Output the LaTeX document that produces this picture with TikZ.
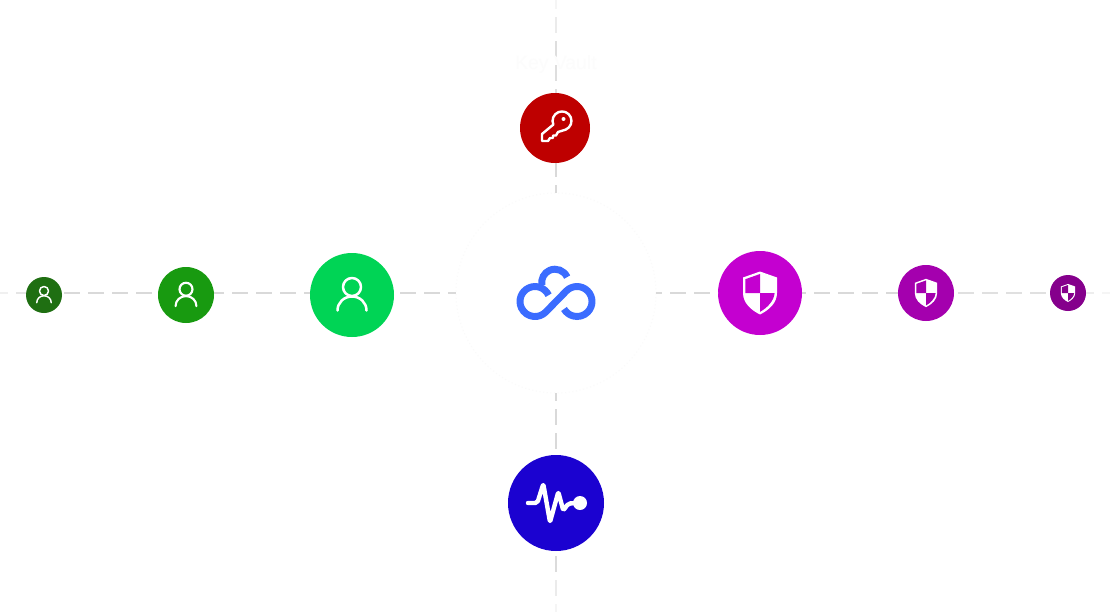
\documentclass[tikz,border=0pt]{standalone}
\usepackage{fontspec}
\setmainfont{Liberation Sans}
\definecolor{keyred}{HTML}{BE0000}
\definecolor{pulseblue}{HTML}{1B02D0}
\definecolor{magA}{HTML}{C400D0}
\definecolor{magB}{HTML}{A400AE}
\definecolor{magC}{HTML}{85008C}
\definecolor{greenA}{HTML}{00D455}
\definecolor{greenB}{HTML}{189A10}
\definecolor{greenC}{HTML}{1F6F12}
\definecolor{cloudblue}{HTML}{3B6CFF}
\tikzset{
  disc/.style={circle,inner sep=0pt,outer sep=0pt,draw=none},
  hub/.style={circle,inner sep=0pt,outer sep=0pt,fill=white,draw=black!2,dotted,line width=0.75pt,minimum size=150pt},
  conn/.style={line width=1.65pt,dash pattern=on 12pt off 6pt,color=black!15},
  iconline/.style={draw=white,line cap=round,line join=round},
  cloudline/.style={draw=cloudblue,line width=5.2pt}
}
\newcommand{\UserIcon}[4]{%
  \begin{scope}[shift={(#1,#2)},scale=#3]
    \draw[iconline,line width=#4] (0,-8) circle (9);
    \draw[iconline,line width=#4] (-14.5,15.5) .. controls (-14.5,7.5) and (-8,1.5) .. (0,1.5) .. controls (8,1.5) and (14.5,7.5) .. (14.5,15.5);
  \end{scope}}
\newcommand{\ShieldIcon}[3]{%
  \begin{scope}[shift={(#1,#2)},scale=#3]
    \fill[white] (0,-21.5) -- (-17,-15.5) -- (-17,0) .. controls (-17,10) and (-9,17) .. (0,21.5) .. controls (9,17) and (17,10) .. (17,0) -- (17,-15.5) -- cycle;
  \end{scope}}
\newcommand{\ShieldCut}[4]{%
  \begin{scope}[shift={(#1,#2)},scale=#3]
    \fill[#4] (0,-19) -- (-14.6,-13.8) -- (-14.6,0) -- (0,0) -- cycle;
    \fill[#4] (0,0) -- (14.6,0) .. controls (14,8) and (7,15) .. (0,18.8) -- cycle;
  \end{scope}}
\begin{document}
\begin{tikzpicture}[x=0.75pt,y=-0.75pt]
\useasboundingbox (0,0) rectangle (1110,614);
\fill[white] (0,0) rectangle (1110,614);
% nodes
\node[hub] (hubnode) at (556,293) {};
\node[disc,fill=keyred,minimum size=52.5pt] (key) at (555,128) {};
\node[disc,fill=pulseblue,minimum size=72pt] (pulse) at (556,503) {};
\node[disc,fill=greenC,minimum size=27pt] (ua) at (44,295) {};
\node[disc,fill=greenB,minimum size=42pt] (ub) at (186,295) {};
\node[disc,fill=greenA,minimum size=63pt] (uc) at (352,295) {};
\node[disc,fill=magA,minimum size=63pt] (sa) at (760,293) {};
\node[disc,fill=magB,minimum size=42pt] (sb) at (926,293) {};
\node[disc,fill=magC,minimum size=27pt] (sc) at (1068,293) {};
\coordinate (hy) at (0,293);
\coordinate (hl) at (12,293);
\coordinate (hr) at (1098,293);
\coordinate (hz) at (1110,293);
\coordinate (vt) at (556,0);
\coordinate (vm) at (556,12);
\coordinate (vn) at (556,36);
\coordinate (vp) at (556,576);
\coordinate (vq) at (556,600);
\coordinate (vb) at (556,612);
% horizontal connectors
\draw[conn,color=black!6,dash phase=6pt] (hy) -- (hl);
\draw[conn,color=black!10,dash phase=15pt] (hl) -- (ua.west |- hy);
\draw[conn,dash phase=16.5pt] (ua.east |- hy) -- (ub.west |- hy);
\draw[conn,dash phase=4.5pt] (ub.east |- hy) -- (uc.west |- hy);
\draw[conn,dash phase=13.5pt] (uc.east |- hy) -- (hubnode.west);
\draw[conn,dash phase=7.5pt] (hubnode.east) -- (sa.west);
\draw[conn,dash phase=9pt] (sa.east) -- (sb.west);
\draw[conn,color=black!12,dash phase=15pt] (sb.east) -- (sc.west);
\draw[conn,color=black!7,dash phase=6pt] (sc.east) -- (hr);
\draw[conn,color=black!4,dash phase=15pt] (hr) -- (hz);
% vertical connectors
\draw[conn,color=black!4,dash phase=5.25pt] (vt) -- (vm);
\draw[conn,color=black!8,dash phase=14.25pt] (vm) -- (vn);
\draw[conn,color=black!13,dash phase=14.25pt] (vn) -- (hubnode.north |- key.north);
\draw[conn,dash phase=1.5pt] (hubnode.north |- key.south) -- (hubnode.north);
\draw[conn,dash phase=6pt] (hubnode.south) -- (pulse.north);
\draw[conn,color=black!14,dash phase=14.25pt] (pulse.south) -- (vp);
\draw[conn,color=black!8,dash phase=15pt] (vp) -- (vq);
\draw[conn,color=black!4,dash phase=15pt] (vq) -- (vb);
% faint label
\node[text=black!1,font=\fontsize{14.5pt}{16pt}\selectfont,inner sep=0pt] (keylabel) at (556,65) {Key Vault};
% cloud
\draw[cloudline] (567.15,277.1) arc[start angle=24,end angle=190,radius=9.98pt];
\draw[cloudline] (548.6,295.2) arc[start angle=25,end angle=315,radius=11.25pt] -- (566.4,290.9) arc[start angle=135,end angle=-150,radius=11.25pt];
% key icon
\draw[iconline,line width=1.8pt] (553.3,124.6) arc[start angle=203,end angle=-67,radius=7.1pt] -- (558,132) -- (556,135.5) -- (553,135.5) -- (553,138) -- (550,138) -- (548,141) -- (542,141) -- (542,134) -- cycle;
\fill[white] (563.5,119) circle (2);
% pulse icon
\draw[iconline,line width=3.3pt,rounded corners=1.5pt] (528,503) -- (537.3,503) -- (543.3,484) -- (550,522) -- (558.3,492) -- (563.3,510.5) -- (568.3,503.5) -- (578,503);
\fill[white] (580,503) circle (7);
% user icons
\UserIcon{352}{295}{1}{1.9pt}
\UserIcon{186}{295}{.72}{1.6pt}
\UserIcon{44}{295}{.5}{1.1pt}
% shield icons
\ShieldIcon{760}{293}{1}
\ShieldCut{760}{293}{1}{magA}
\ShieldIcon{926}{293}{.66}
\ShieldCut{926}{293}{.66}{magB}
\ShieldIcon{1068}{293}{.42}
\ShieldCut{1068}{293}{.42}{magC}
\end{tikzpicture}
\end{document}
